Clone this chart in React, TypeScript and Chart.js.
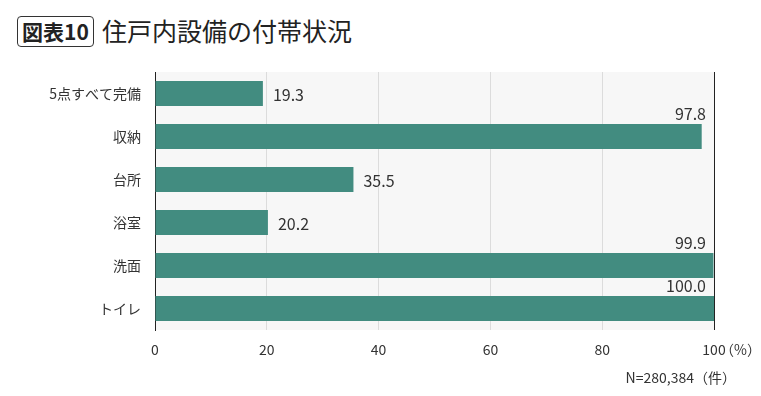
import React, { useEffect, useRef } from 'react';
import { Chart, registerables } from 'chart.js';
Chart.register(...registerables);

const categories = ['5点すべて完備', '収納', '台所', '浴室', '洗面', 'トイレ'];
const values = [19.3, 97.8, 35.5, 20.2, 99.9, 100.0];
const xTickValues = [0, 20, 40, 60, 80, 100];
const figLabel = '図表10';
const titleText = '住戸内設備の付帯状況';
const unitLabel = '（%）';
const noteText = 'N=280,384（件）';

const FONT = '"Noto Sans CJK JP", "Noto Sans", sans-serif';
const BAR = '#428c80';
const TEXT = '#333333';

export default function App() {
  const ref = useRef<HTMLCanvasElement>(null);
  useEffect(() => {
    if (!ref.current) return;
    const bgPlugin = {
      id: 'bg',
      beforeDraw(chart: any) {
        const { ctx, chartArea: a } = chart;
        ctx.save();
        ctx.fillStyle = '#f7f7f7';
        ctx.fillRect(a.left, a.top, a.right - a.left, a.bottom - a.top);
        ctx.restore();
      },
      afterDraw(chart: any) {
        const { ctx, chartArea: a } = chart;
        const meta = chart.getDatasetMeta(0);
        ctx.save();
        ctx.font = `16px ${FONT}`;
        ctx.fillStyle = TEXT;
        meta.data.forEach((el: any, i: number) => {
          const v = values[i];
          const label = v.toFixed(1);
          const top = el.y - el.height / 2;
          if (v > 90) {
            ctx.textAlign = 'right';
            ctx.textBaseline = 'bottom';
            ctx.fillText(label, a.right - 8, top - 2);
          } else {
            ctx.textAlign = 'left';
            ctx.textBaseline = 'middle';
            ctx.fillText(label, el.x + 10, el.y + 1);
          }
        });
        ctx.font = `14px ${FONT}`;
        ctx.textAlign = 'left';
        ctx.textBaseline = 'middle';
        ctx.fillText(unitLabel, a.right + 6, 350);
        ctx.textAlign = 'right';
        ctx.fillText(noteText, 736, 378);
        ctx.restore();
      },
    };
    const chart = new Chart(ref.current, {
      type: 'bar',
      data: {
        labels: categories,
        datasets: [
          {
            data: values,
            backgroundColor: BAR,
            borderWidth: 0,
            barPercentage: 0.58,
            categoryPercentage: 1,
          },
        ],
      },
      options: {
        indexAxis: 'y',
        animation: false,
        responsive: false,
        maintainAspectRatio: false,
        layout: { padding: { top: 72, right: 47, bottom: 36, left: 0 } },
        plugins: { legend: { display: false }, tooltip: { enabled: false } },
        scales: {
          x: {
            min: 0,
            max: 100,
            afterBuildTicks(scale: any) {
              scale.ticks = xTickValues.map((v) => ({ value: v }));
            },
            afterFit(scale: any) {
              scale.height = 30;
            },
            grid: {
              drawTicks: false,
              color: (c: any) =>
                c.tick && c.tick.value === 100 ? '#222' : c.tick && c.tick.value === 0 ? 'rgba(0,0,0,0)' : '#dcdcdc',
              lineWidth: 1,
            },
            border: { display: false },
            ticks: {
              padding: 11,
              color: TEXT,
              font: { family: FONT, size: 14 },
            },
          },
          y: {
            afterFit(scale: any) {
              scale.width = 155;
            },
            grid: { display: false, drawTicks: false },
            border: { display: true, color: '#222', width: 1 },
            ticks: {
              padding: 14,
              color: TEXT,
              font: { family: FONT, size: 14 },
            },
          },
        },
      },
      plugins: [bgPlugin],
    });
    return () => chart.destroy();
  }, []);

  return (
    <div style={{ position: 'fixed', left: 0, top: 0, width: 761, height: 396, background: '#fff', fontFamily: FONT }}>
      <div
        style={{
          position: 'absolute',
          left: 17,
          top: 16,
          width: 75,
          height: 29,
          border: '1.5px solid #333',
          borderRadius: 4,
          display: 'flex',
          alignItems: 'center',
          justifyContent: 'center',
          fontSize: 21,
          fontWeight: 700,
          color: '#222',
          lineHeight: 1,
        }}
      >
        {figLabel}
      </div>
      <div
        style={{
          position: 'absolute',
          left: 102,
          top: 14,
          fontSize: 25,
          color: '#222',
          lineHeight: '32px',
          fontWeight: 400,
          whiteSpace: 'nowrap',
        }}
      >
        {titleText}
      </div>
      <canvas ref={ref} width={761} height={396} style={{ position: 'absolute', left: 0, top: 0 }} />
    </div>
  );
}
